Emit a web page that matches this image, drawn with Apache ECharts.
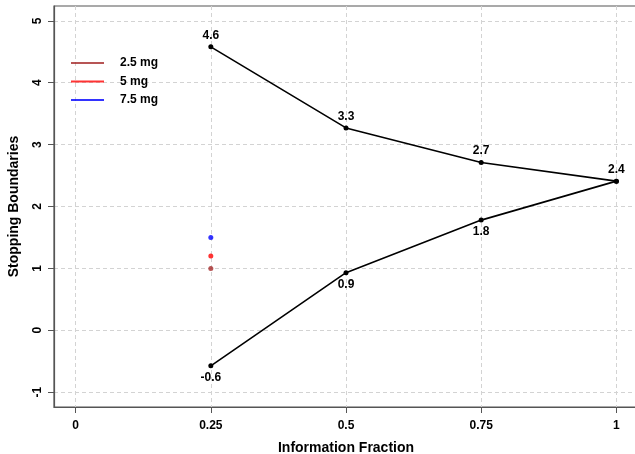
<!DOCTYPE html>
<html>
<head>
<meta charset="utf-8">
<script src="https://cdn.jsdelivr.net/npm/echarts@6/dist/echarts.min.js"></script>
<style>
  html, body { margin: 0; padding: 0; background: #fff; }
  #chart { width: 635px; height: 454px; }
</style>
</head>
<body>
<div id="chart"></div>
<script>
const fractions = [0.25, 0.5, 0.75, 1];
const upperBound = [4.58, 3.27, 2.71, 2.41];
const lowerBound = [-0.575, 0.93, 1.78, 2.41];
const doseNames = ["2.5 mg", "5 mg", "7.5 mg"];
const doseValues = [1.0, 1.2, 1.5];
const doseColors = ["#a52a2a", "#ff0000", "#0000ff"];
const xTicks = [0, 0.25, 0.5, 0.75, 1];
const yTicks = [-1, 0, 1, 2, 3, 4, 5];

const font = "Liberation Sans, Arial, sans-serif";
let myChart = echarts.init(document.getElementById("chart"));

function boundSeries(name, values, pos) {
  return {
    name: name,
    type: "line",
    data: fractions.map((f, i) => [f, values[i]]),
    symbol: "circle",
    symbolSize: 5,
    itemStyle: { color: "#000" },
    lineStyle: { color: "#000", width: 1.6 },
    label: {
      show: true,
      position: pos,
      distance: 3,
      color: "#000",
      fontFamily: font,
      fontWeight: "bold",
      fontSize: 12,
      formatter: (p) => (pos === "top" || p.dataIndex < 3) ? p.value[1].toFixed(1) : "",
    },
    z: 3,
  };
}

let series = [boundSeries("upper", upperBound, "top"), boundSeries("lower", lowerBound, "bottom")];
doseNames.forEach((n, i) => {
  series.push({
    name: n,
    type: "scatter",
    data: [[0.25, doseValues[i]]],
    symbolSize: 5,
    itemStyle: { color: doseColors[i] },
    z: 4,
  });
});

let option = {
  animation: false,
  grid: {
    left: 54,
    top: 6,
    width: 584,
    height: 401,
    containLabel: false,
    outerBoundsMode: "none",
    show: true,
    borderColor: "#555",
    borderWidth: 1.2,
  },
  legend: {
    orient: "vertical",
    left: 66,
    top: 52,
    itemWidth: 33,
    itemHeight: 2,
    itemGap: 6.5,
    icon: "rect",
    data: doseNames,
    textStyle: { fontFamily: font, fontWeight: "bold", fontSize: 12, color: "#000", padding: [0, 0, 0, 11] },
  },
  xAxis: {
    type: "value",
    min: -0.04,
    max: 1.04,
    name: "Information Fraction",
    nameLocation: "middle",
    nameGap: 34,
    nameTextStyle: { fontFamily: font, fontWeight: "bold", fontSize: 14, color: "#000" },
    axisLine: { show: true, onZero: false, lineStyle: { color: "#555", width: 1.2 } },
    axisTick: { show: true, length: 6, lineStyle: { color: "#555" }, customValues: xTicks },
    axisLabel: {
      customValues: xTicks,
      margin: 13,
      fontFamily: font, fontWeight: "bold", fontSize: 12, color: "#000",
      formatter: (v) => String(v),
    },
    splitLine: { show: true, lineStyle: { color: "#d3d3d3", type: [4, 3] } },
    interval: 0.25,
  },
  yAxis: {
    type: "value",
    min: -1.24,
    max: 5.24,
    name: "Stopping Boundaries",
    nameLocation: "middle",
    nameGap: 33,
    nameTextStyle: { fontFamily: font, fontWeight: "bold", fontSize: 14, color: "#000" },
    axisLine: { show: true, onZero: false, lineStyle: { color: "#555", width: 1.2 } },
    axisTick: { show: true, length: 6, lineStyle: { color: "#555" }, customValues: yTicks },
    axisLabel: {
      customValues: yTicks,
      rotate: 90,
      margin: 10,
      fontFamily: font, fontWeight: "bold", fontSize: 12, color: "#000",
    },
    splitLine: { show: true, lineStyle: { color: "#d3d3d3", type: [4, 3] } },
  },
  series: series,
};
myChart.setOption(option);
</script>
</body>
</html>
